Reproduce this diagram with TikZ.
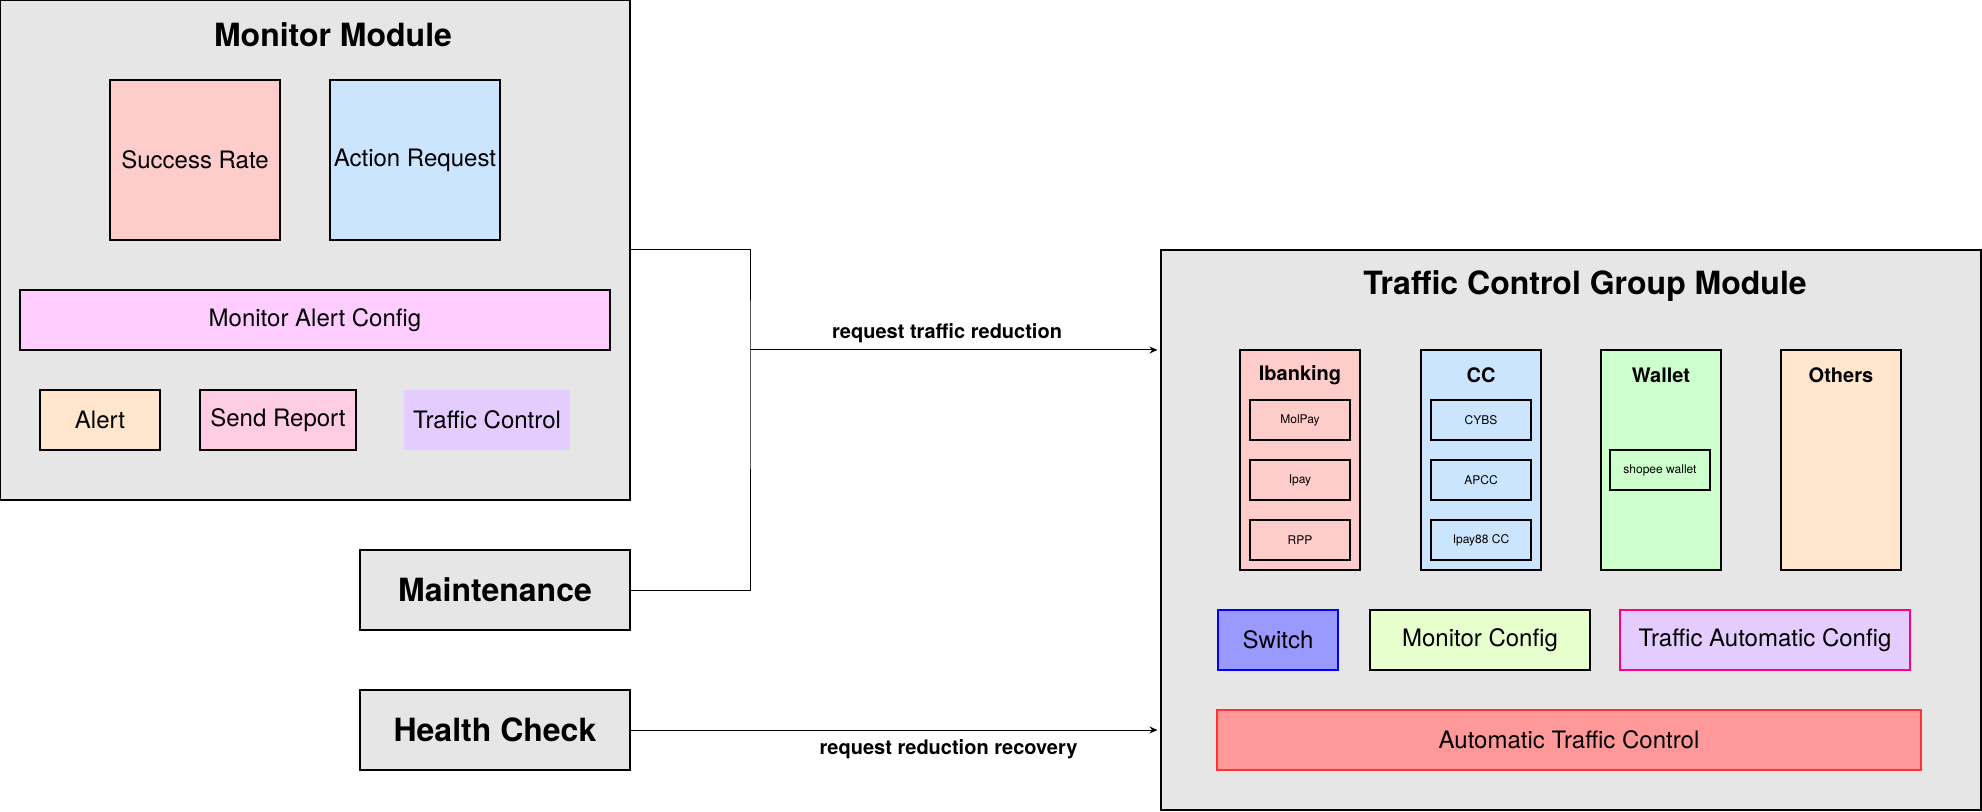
\documentclass[tikz,border=0pt]{standalone}
\usepackage{fontspec}
\setmainfont{TeX Gyre Heros}
\usetikzlibrary{arrows.meta}
\definecolor{modgray}{HTML}{E6E6E6}
\definecolor{pinkred}{HTML}{FFCCCC}
\definecolor{lightblue}{HTML}{CCE5FF}
\definecolor{lightmag}{HTML}{FFCCFF}
\definecolor{peach}{HTML}{FFE6CC}
\definecolor{rose}{HTML}{FFCCE6}
\definecolor{lavender}{HTML}{E5CCFF}
\definecolor{mint}{HTML}{CCFFCC}
\definecolor{periwinkle}{HTML}{9999FF}
\definecolor{lime}{HTML}{E6FFCC}
\definecolor{hotpink}{HTML}{FF0080}
\definecolor{salmon}{HTML}{FF9999}
\definecolor{redline}{HTML}{FF3333}
\begin{document}
\begin{tikzpicture}[x=0.5pt, y=-0.5pt,
  blk/.style={draw, line width=0.6pt, inner sep=0pt, font=\fontsize{12}{14}\selectfont},
  module/.style={blk, fill=modgray},
  modtitle/.style={inner sep=0pt, font=\bfseries\fontsize{16}{19}\selectfont},
  coltitle/.style={inner sep=0pt, font=\bfseries\fontsize{10}{12}\selectfont},
  column/.style={blk, minimum width=60pt, minimum height=110pt},
  sub/.style={blk, minimum width=50pt, minimum height=20pt, font=\fontsize{6}{7}\selectfont},
  arr/.style={-{Stealth[length=4pt,width=3.5pt]}, line width=0.5pt, shorten >=1.5pt},
  lbl/.style={font=\bfseries\fontsize{10}{12}\selectfont}]
\useasboundingbox (0,0) rectangle (1982,812);

\node[module, minimum width=315pt, minimum height=250pt] (monitor) at (315,250) {};
\node[modtitle] (monitorT) at (333,35) {Monitor Module};
\node[blk, fill=pinkred, minimum width=85pt, minimum height=80pt] (succRate) at (195,160) {Success Rate};
\node[blk, fill=lightblue, minimum width=85pt, minimum height=80pt] (actReq) at (415,160) {Action Request};
\node[blk, fill=lightmag, minimum width=295pt, minimum height=30pt] (alertCfg) at (315,320) {Monitor Alert Config};
\node[blk, fill=peach, minimum width=60pt, minimum height=30pt] (alert) at (100,420) {Alert};
\node[blk, fill=rose, minimum width=78pt, minimum height=30pt] (sendRep) at (278,420) {Send Report};
\node[blk, draw=none, fill=lavender, minimum width=83pt, minimum height=30pt] (trafCtl) at (487,420) {Traffic Control};

\node[module, modtitle, minimum width=135pt, minimum height=40pt] (maint) at (495,590) {Maintenance};
\node[module, modtitle, minimum width=135pt, minimum height=40pt] (health) at (495,730) {Health Check};

\node[module, minimum width=410pt, minimum height=280pt] (tcgm) at (1571,530) {};
\node[modtitle] (tcgmT) at (1585,286) {Traffic Control Group Module};

\node[column, fill=pinkred] (ibank) at (1300,460) {};
\node[column, fill=lightblue] (cc) at (1481,460) {};
\node[column, fill=mint] (wallet) at (1661,460) {};
\node[column, fill=peach] (others) at (1841,460) {};
\node[coltitle] (ibankT) at (1300,375) {Ibanking};
\node[coltitle] (ccT) at (1481,375) {CC};
\node[coltitle] (walletT) at (1661,375) {Wallet};
\node[coltitle] (othersT) at (1841,375) {Others};

\node[sub, fill=pinkred] (molpay) at (1300,420) {MolPay};
\node[sub, fill=pinkred] (ipay) at (1300,480) {Ipay};
\node[sub, fill=pinkred] (rpp) at (1300,540) {RPP};
\node[sub, fill=lightblue] (cybs) at (1481,420) {CYBS};
\node[sub, fill=lightblue] (apcc) at (1481,480) {APCC};
\node[sub, fill=lightblue] (ipay88) at (1481,540) {Ipay88 CC};
\node[sub, fill=mint] (shopee) at (1660,470) {shopee wallet};

\node[blk, draw=blue, fill=periwinkle, minimum width=60pt, minimum height=30pt] (switch) at (1278,640) {Switch};
\node[blk, fill=lime, minimum width=110pt, minimum height=30pt] (monCfg) at (1480,640) {Monitor Config};
\node[blk, draw=hotpink, fill=lavender, minimum width=145pt, minimum height=30pt] (autoCfg) at (1765,640) {Traffic Automatic Config};
\node[blk, draw=redline, fill=salmon, minimum width=352pt, minimum height=30pt] (autoTC) at (1569,740) {Automatic Traffic Control};

\coordinate (junc) at (750,350);
\draw[line width=0.5pt] (monitor.east) -| (junc) |- (maint.east);
\draw[arr] (junc) -- (junc -| tcgm.west) node[lbl, pos=0.48, above=0pt] {request traffic reduction};
\draw[arr] (health.east) -- (health.east -| tcgm.west) node[lbl, pos=0.6, below=1pt] {request reduction recovery};
\end{tikzpicture}
\end{document}
